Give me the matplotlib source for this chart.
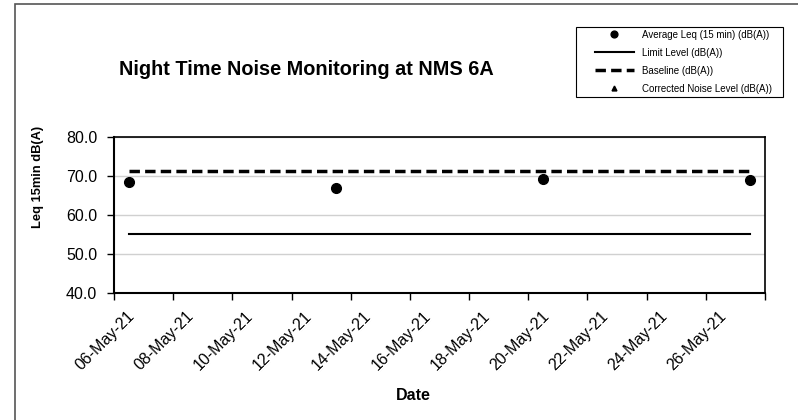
import matplotlib
matplotlib.use('Agg')
import matplotlib.pyplot as plt
import matplotlib.transforms as mtransforms
import pandas as pd
from matplotlib.patches import Rectangle

plt.rcParams['font.family'] = ['Liberation Sans', 'DejaVu Sans']

# data
dates = pd.to_datetime(['2021-05-06 12:00', '2021-05-13 12:00',
                        '2021-05-20 12:00', '2021-05-27 12:00'])
avg_leq = [68.4, 66.8, 69.2, 69.0]
limit_level = [55.0, 55.0, 55.0, 55.0]
baseline = [71.4, 71.4, 71.4, 71.4]
corrected = []  # no corrected values shown

W, H = 798, 420
fig = plt.figure(figsize=(W / 100, H / 100), dpi=100)
ax = fig.add_axes([114 / W, 1 - 293 / H, (765 - 114) / W, (293 - 137) / H])

# outer chart border (only left/top visible in the crop)
fig.patches.append(Rectangle((15 / W, -0.1), 1.2, (1 - 4 / H) + 0.1,
                             transform=fig.transFigure, fill=False,
                             edgecolor='#555555', linewidth=1.2))

ax.plot(dates, avg_leq, 'o', color='black', markersize=7,
        label='Average Leq (15 min) (dB(A))')
ax.plot(dates, limit_level, '-', color='black', linewidth=1.5,
        label='Limit Level (dB(A))')
ax.plot(dates, baseline, '--', color='black', linewidth=2.5, dashes=(3, 1.5),
        label='Baseline (dB(A))')
ax.plot([], corrected, '^', color='black', markersize=5,
        label='Corrected Noise Level (dB(A))')

ax.set_ylim(40, 80)
ax.set_yticks([40, 50, 60, 70, 80])
ax.set_yticklabels(['40.0', '50.0', '60.0', '70.0', '80.0'])
ax.set_xlim(pd.Timestamp('2021-05-06'), pd.Timestamp('2021-05-28'))
ticks = pd.date_range('2021-05-06', '2021-05-28', freq='2D')
ax.set_xticks(ticks)
ax.set_xticklabels([t.strftime('%d-%b-%y') if t < ticks[-1] else '' for t in ticks])

ax.tick_params(axis='both', labelsize=11.5, direction='out', length=5, width=1)
ax.tick_params(axis='y', pad=7)
ax.tick_params(axis='x', pad=4)
ax.grid(axis='y', color='#d0d0d0', linewidth=1)
ax.set_axisbelow(True)
for s in ['left', 'bottom']:
    ax.spines[s].set_linewidth(1.5)
for s in ['top', 'right']:
    ax.spines[s].set_linewidth(1.2)

# rotated date labels, nudged right/down like the original
shift = mtransforms.ScaledTranslation(0.13, -0.03, fig.dpi_scale_trans)
for lbl in ax.xaxis.get_majorticklabels():
    lbl.set_rotation(45)
    lbl.set_ha('right')
    lbl.set_rotation_mode('anchor')
    lbl.set_transform(lbl.get_transform() + shift)

fig.text(38 / W, 1 - 177 / H, 'Leq 15min dB(A)', fontsize=9.3, fontweight='bold',
         rotation=90, ha='center', va='center')
fig.text(413 / W, 1 - 396 / H, 'Date', fontsize=11.5, fontweight='bold',
         ha='center', va='center')
fig.text(306 / W, 1 - 75 / H, 'Night Time Noise Monitoring at NMS 6A',
         fontsize=14.3, fontweight='bold', ha='center', va='baseline')

# legend box drawn separately so the padding matches
fig.patches.append(Rectangle((576 / W, 1 - 97 / H), (783 - 576) / W, 70 / H,
                             transform=fig.transFigure, fill=False,
                             edgecolor='black', linewidth=0.8))
leg = fig.legend(loc='upper left', bbox_to_anchor=(595 / W, 1 - 29.5 / H),
                 fontsize=7, frameon=False, borderpad=0, borderaxespad=0,
                 handlelength=4, handletextpad=0.8, labelspacing=0.83,
                 markerscale=0.7)

fig.savefig('out.png', dpi=100)
